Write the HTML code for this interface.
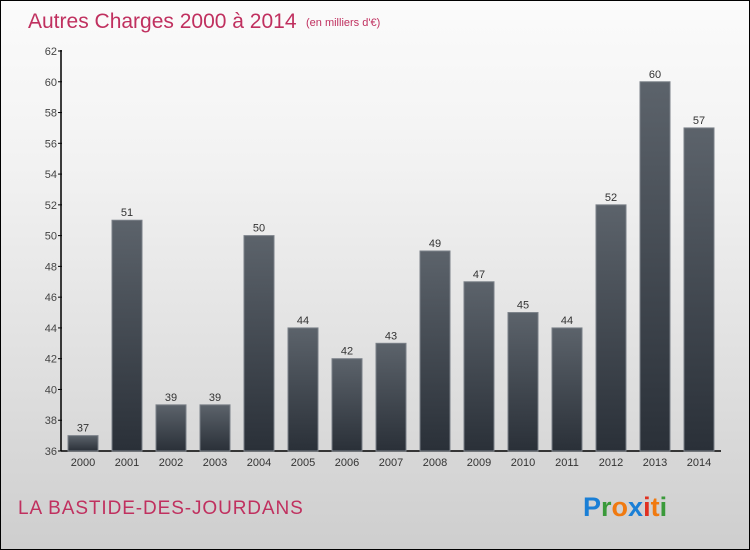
<!DOCTYPE html>
<html><head><meta charset="utf-8"><style>
body{margin:0}
#c{position:relative;width:748px;height:548px;border:1px solid #000;background:linear-gradient(#fbfbfb,#f2f2f2 30%,#dedede 70%,#cecece);font-family:"Liberation Sans",sans-serif;overflow:hidden}
</style></head><body>
<div id="c">
<svg width="748" height="548">
<defs><linearGradient id="g" x1="0" y1="0" x2="0" y2="1"><stop offset="0" stop-color="#5c636b"/><stop offset="1" stop-color="#2a3038"/></linearGradient></defs>
<text x="27" y="27" font-size="21" fill="#c0305f">Autres Charges 2000 à 2014</text>
<text x="305" y="25" font-size="11" fill="#c0305f">(en milliers d'€)</text>
<g id="plot"></g>
<text x="17" y="513" font-size="19" letter-spacing="0.9" fill="#c0305f">LA BASTIDE-DES-JOURDANS</text>
<g font-size="27" font-weight="bold" font-family="'Liberation Sans',sans-serif">
<text x="582" y="515"><tspan fill="#1a7fd6">P</tspan><tspan fill="#3a9a3a">r</tspan><tspan fill="#f07a10">o</tspan><tspan fill="#1a7fd6">x</tspan><tspan fill="#e03020">i</tspan><tspan fill="#f07a10">t</tspan><tspan fill="#3a9a3a">i</tspan></text></g>
</svg></div>
<script>
const years=["2000","2001","2002","2003","2004","2005","2006","2007","2008","2009","2010","2011","2012","2013","2014"];
const values=[37,51,39,39,50,44,42,43,49,47,45,44,52,60,57];
const yTicks=[36,38,40,42,44,46,48,50,52,54,56,58,60,62];
const NS="http://www.w3.org/2000/svg";
const g=document.getElementById('plot');
const y=v=>450-(v-36)*400/26;
const x=i=>82+44*i;
function mk(t,a,txt){const e=document.createElementNS(NS,t);for(const k in a)e.setAttribute(k,a[k]);if(txt!=null)e.textContent=txt;g.appendChild(e);return e;}
let ax=mk('line',{x1:60,y1:49,x2:60,y2:450,stroke:'#000','stroke-width':1.5});


let bx=mk('line',{x1:60,y1:450,x2:720,y2:450,stroke:'#000','stroke-width':1.5});


yTicks.forEach(t=>{
 let l=mk('line',{x1:57,y1:y(t),x2:61,y2:y(t),stroke:'#000'});
 
 
 let tx=mk('text',{x:56,y:y(t)+4,'font-size':11,fill:'#444','text-anchor':'end'},t);
 
 
});
years.forEach((yr,i)=>{
 const v=values[i];
 let r=mk('rect',{x:x(i)-15,y:y(v),width:30,height:450-y(v),fill:'url(#g)',stroke:'#7a8088','stroke-width':1});
 
 
 let vl=mk('text',{x:x(i),y:y(v)-4,'font-size':11,fill:'#333','text-anchor':'middle'},v);
 
 
 let xl=mk('text',{x:x(i),y:465,'font-size':11,fill:'#333','text-anchor':'middle'},yr);
 
 
});
</script>
</body></html>
